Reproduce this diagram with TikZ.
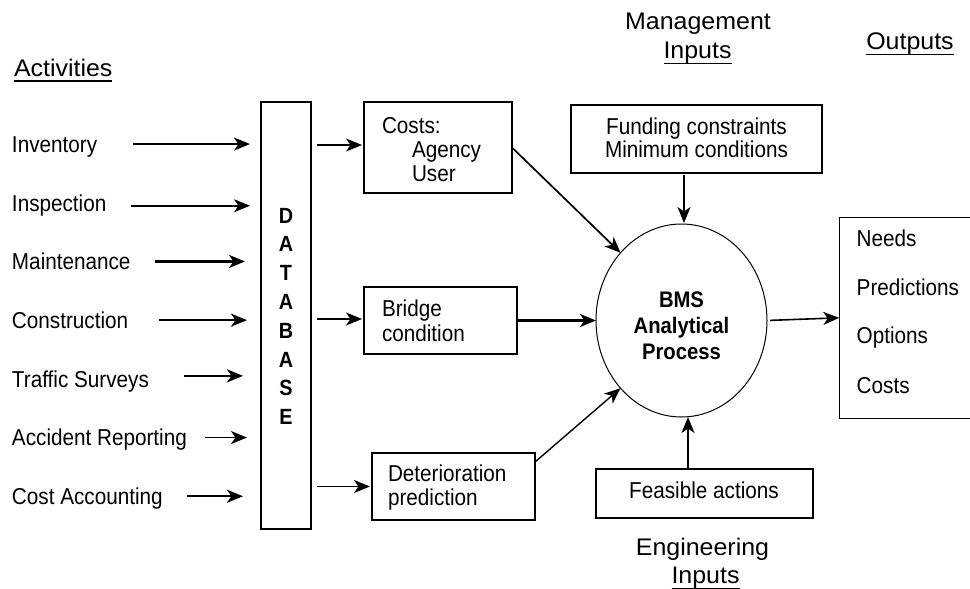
\documentclass[tikz,border=0pt]{standalone}
\usepackage{fontspec}
\setmainfont{Liberation Sans}[FakeStretch=0.9]
\newfontfamily\headfont{Liberation Sans}[FakeStretch=1.04]
\usetikzlibrary{arrows.meta,shapes.geometric}
% underline set a little below the baseline
\newcommand\ulin[1]{\setbox0\hbox{#1}\rlap{\rule[-5.8pt]{\wd0}{1.4pt}}\box0}

\begin{document}
\begin{tikzpicture}[x=1pt,y=-1pt,
  every node/.style={inner sep=0pt, outer sep=0pt},
  body/.style={font=\fontsize{23}{25}\selectfont},
  lbl/.style={body, anchor=base west},
  ctr/.style={body, anchor=base},
  act/.style={lbl, text height=16.5pt, text depth=0pt},
  head/.style={font=\headfont\fontsize{24}{26}\selectfont, anchor=base},
  box/.style={draw, rectangle, line width=1.3pt},
  arr/.style={-{Stealth[length=16pt,width=13pt,inset=4.5pt]}, line width=#1},
  arr/.default=1.8pt
]
\useasboundingbox (0,0) rectangle (970,589);

% ---- headings ----
\node[head, anchor=base west] (hact) at (14,76) {\ulin{Activities}};
\node[head] (hman) at (698,29.3) {Management};
\node[head] (hmanin) at (697.5,58.3) {\ulin{Inputs}};
\node[head] (hout) at (910,49.3) {\ulin{Outputs}};
\node[head] (heng) at (702.5,555.7) {Engineering};
\node[head] (hengin) at (705.5,583.3) {\ulin{Inputs}};

% ---- activities ----
\node[act] (inv) at (12,152.3) {Inventory};
\node[act] (insp) at (12,211) {Inspection};
\node[act] (maint) at (12,269.7) {Maintenance};
\node[act] (constr) at (12,328.4) {Construction};
\node[act] (traffic) at (12,387.1) {Traffic Surveys};
\node[act] (accid) at (12,445.8) {Accident Reporting};
\node[act] (costacc) at (12,504.5) {Cost Accounting};

% ---- database ----
\node[box, minimum width=50pt, minimum height=427pt] (db) at (286,315.5) {};
\node[align=center, font=\bfseries\fontsize{22}{28.8}\selectfont] (dbt) at (286,316.3)
  {D\\A\\T\\A\\B\\A\\S\\E};
\coordinate (dbout) at ([xshift=6pt]db.east);

% ---- intermediate boxes ----
\node[box, minimum width=148pt, minimum height=91pt] (costs) at (438,147.5) {};
\node[lbl] (costs1) at (382,133) {Costs:};
\node[lbl] (costs2) at (412,157) {Agency};
\node[lbl] (costs3) at (412,181) {User};

\node[box, minimum width=153pt, minimum height=67pt] (bridge) at (440.5,320.5) {};
\node[lbl] (bridge1) at (382,316) {Bridge};
\node[lbl] (bridge2) at (382,341) {condition};

\node[box, minimum width=163pt, minimum height=67pt] (det) at (453.5,486.5) {};
\node[lbl] (det1) at (388,481) {Deterioration};
\node[lbl] (det2) at (388,505) {prediction};

% ---- management and engineering inputs ----
\node[box, minimum width=251pt, minimum height=68pt] (fund) at (696.5,139) {};
\node[ctr] (fund1) at (696.5,134) {Funding constraints};
\node[ctr] (fund2) at (696.5,157) {Minimum conditions};

\node[box, minimum width=217pt, minimum height=49pt] (feas) at (704.5,493.5) {};
\node[ctr] (feas1) at (704,498) {Feasible actions};

% ---- analytical process ----
\node[draw, ellipse, line width=1pt, minimum width=171pt, minimum height=193pt] (bms) at (681.5,320.5) {};
\node[align=center, font=\bfseries\fontsize{22.5}{26}\selectfont] (bmst) at (681.5,326)
  {BMS\\Analytical\\Process};

% ---- outputs (box runs off the right edge) ----
\node[minimum width=130.7pt, minimum height=201pt] (outbox) at (904.65,317.8) {};
\draw[line width=1.3pt] (outbox.north east) -- (outbox.north west) -- (outbox.south west) -- (outbox.south east);
\node[lbl] (o1) at (856.7,246.5) {Needs};
\node[lbl] (o2) at (856.7,295) {Predictions};
\node[lbl] (o3) at (856.7,343.5) {Options};
\node[lbl] (o4) at (856.7,393) {Costs};

% ---- activities into the database ----
\draw[arr=2.4pt] (inv.center -| 133,0) -- (inv.center -| 250,0);
\draw[arr=1.5pt] ([yshift=-3pt]insp.center -| 131,0) -- ([yshift=-3pt]insp.center -| 250,0);
\draw[arr=2.4pt] (maint.center -| 155,0) -- (maint.center -| 245,0);
\draw[arr=2.4pt] (constr.center -| 159,0) -- (constr.center -| 247,0);
\draw[arr=2.4pt] ([yshift=3pt]traffic.center -| 184,0) -- ([yshift=3pt]traffic.center -| 243,0);
\draw[arr=1.5pt] (accid.center -| 205,0) -- (accid.center -| 247,0);
\draw[arr=2.4pt] (costacc.center -| 187,0) -- (costacc.center -| 243,0);

% ---- database into the boxes ----
\draw[arr=1.7pt] ([yshift=2.5pt]costs.west -| dbout) -- ([yshift=2.5pt,xshift=-2pt]costs.west);
\draw[arr=2.2pt] ([yshift=1.5pt]bridge.west -| dbout) -- ([yshift=1.5pt,xshift=-2pt]bridge.west);
\draw[arr=1.7pt] (det.west -| dbout) -- ([xshift=-2pt]det.west);

% ---- boxes into the analytical process ----
\draw[arr=1.7pt] (costs.east) -- (bms.132);
\draw[arr=2.4pt] (bridge.east) -- (bms.west);
\draw[arr=1.4pt] ([yshift=24.5pt]det.east) -- (bms.228);
\draw[arr=1.7pt, shorten <=2pt, shorten >=1pt] ([xshift=-12.5pt]fund.south) -- ([xshift=-12.5pt]fund.south |- bms.north);
\draw[arr=2pt] ([xshift=-16.5pt]feas.north) -- ([xshift=-16.5pt]feas.north |- bms.south);
\draw[arr=1.6pt, shorten <=3pt] (bms.east) -- (outbox.west);
\end{tikzpicture}
\end{document}
